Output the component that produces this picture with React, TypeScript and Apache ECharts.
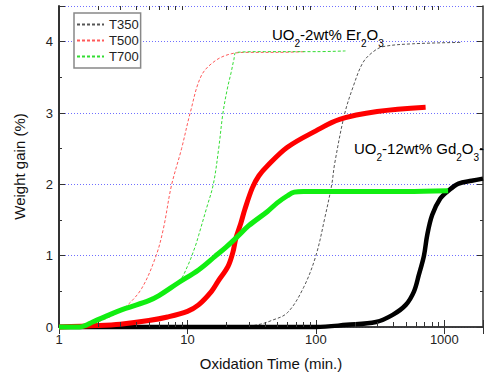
import React, { useEffect, useRef } from "react";
import * as echarts from "echarts";

// T350 / T500 / T700 (thin dashed) curves: [time (min.), weight gain (%)]
const t350Dashed: number[][] = [
  [1, 0], [25, 0], [35, 0.03], [45, 0.09], [60, 0.2], [80, 0.55], [100, 1.0], [118, 1.55],
  [133, 2.0], [140, 2.29], [167, 2.98], [196, 3.38], [233, 3.71], [280, 3.86], [333, 3.93],
  [565, 3.97], [1380, 3.99],
];
const t500Dashed: number[][] = [
  [1, 0], [1.6, 0.02], [2.2, 0.1], [2.8, 0.19], [3.3, 0.28], [4.4, 0.54], [5.7, 1.0], [6.5, 1.38],
  [7.5, 1.98], [9, 2.5], [10.5, 3.0], [12.8, 3.52], [16.4, 3.73], [21.9, 3.83], [30, 3.85],
  [50, 3.85], [82, 3.86],
];
const t700Dashed: number[][] = [
  [1, 0], [1.6, 0.02], [1.83, 0.07], [2.46, 0.17], [3.3, 0.26], [5, 0.37], [8.5, 0.63], [10, 0.85],
  [11.5, 1.13], [12.2, 1.28], [14, 1.65], [15.9, 2.0], [17.5, 2.5], [18.9, 3.0], [20.5, 3.35],
  [21.9, 3.57], [23, 3.75], [24, 3.85], [40, 3.86], [100, 3.86], [170, 3.87],
];

// Thick curves (no legend entry)
const gdThick: number[][] = [
  [1, 0], [100, 0], [173, 0.03], [294, 0.07], [396, 0.17], [501, 0.31], [581, 0.5], [633, 0.73],
  [694, 1.0], [736, 1.29], [804, 1.57], [930, 1.8], [1075, 1.91], [1290, 2.01], [1630, 2.05],
  [2000, 2.08],
];
const redThick: number[][] = [
  [1, 0], [2, 0.02], [3, 0.04], [5, 0.09], [7, 0.14], [10, 0.22], [12.2, 0.31], [15.4, 0.5],
  [17.3, 0.64], [20.7, 0.85], [22.6, 1.05], [23.8, 1.24], [26, 1.45], [28, 1.65], [32, 1.95],
  [36, 2.12], [42, 2.26], [60, 2.52], [100, 2.75], [153, 2.91], [300, 3.02], [715, 3.08],
];
const greenThick: number[][] = [
  [1, 0], [1.45, 0], [1.6, 0.02], [1.83, 0.07], [2.46, 0.17], [3.3, 0.26], [5, 0.37], [6, 0.44],
  [8.5, 0.62], [12.2, 0.8], [16.4, 0.99], [20, 1.12], [24.6, 1.27], [30, 1.42], [42, 1.62],
  [50, 1.74], [60, 1.84], [68, 1.89], [80, 1.9], [200, 1.9], [500, 1.9], [1070, 1.91],
];

const legendNames = ["T350", "T500", "T700"];
const xMinorTicks = [
  2, 3, 4, 5, 6, 7, 8, 9, 20, 30, 40, 50, 60, 70, 80, 90, 200, 300, 400, 500, 600, 700, 800, 900,
];
const xMin = 1;
const xMax = 2000;
const yMin = 0;
const yMax = 4.5;
const label1 = "{a|UO}{s|2}{a|-2wt% Er}{s|2}{a|O}{s|3}";
const label2 = "{a|UO}{s|2}{a|-12wt% Gd}{s|2}{a|O}{s|3}{a|-}";
const xTitle = "Oxidation Time (min.)";
const yTitle = "Weight gain (%)";

const FONT = "'Liberation Sans', Arial, sans-serif";
const AXIS_COLOR = "#333";

export default function App() {
  const ref = useRef<HTMLDivElement>(null);
  useEffect(() => {
    if (!ref.current) return;
    const chart = echarts.init(ref.current, undefined, { renderer: "svg" });
    const rich = {
      a: { fontSize: 15, lineHeight: 21, verticalAlign: "top", fontFamily: FONT, color: "#111" },
      s: { fontSize: 10, lineHeight: 10, verticalAlign: "bottom", fontFamily: FONT, color: "#111" },
    };
    const xLabelFmt = (v: number) => {
      const l = Math.log10(v);
      return Math.abs(l - Math.round(l)) < 1e-6 ? String(Math.round(v)) : "";
    };
    const thin = (name: string, data: number[][], color: string) => ({
      name,
      type: "line",
      data,
      symbol: "none",
      smooth: 0.35,
      clip: false,
      lineStyle: { color, width: 1, type: [3, 2] },
      itemStyle: { color },
      z: 2,
    });
    const thick = (name: string, data: number[][], color: string, width: number, z: number) => ({
      name,
      type: "line",
      data,
      symbol: "none",
      smooth: 0.35,
      clip: false,
      lineStyle: { color, width },
      itemStyle: { color },
      z,
    });
    const textGraphics: any[] = [
      {
        id: "label1",
        type: "text",
        left: 272,
        top: 27,
        style: { text: label1, rich, fontFamily: FONT },
        z: 10,
      },
      {
        id: "label2",
        type: "text",
        left: 354,
        top: 141,
        style: { text: label2, rich, fontFamily: FONT },
        z: 10,
      },
    ];
    chart.setOption({
      animation: false,
      backgroundColor: "#fff",
      grid: { left: 59, top: 6, right: -2, bottom: 47 },
      legend: {
        data: legendNames,
        orient: "vertical",
        left: 74,
        top: 13,
        itemWidth: 27,
        itemHeight: 13,
        itemGap: 3,
        padding: [5, 2, 5, 2],
        borderColor: "#888",
        borderWidth: 1.5,
        backgroundColor: "#fff",
        itemStyle: { opacity: 0 },
        textStyle: { fontSize: 13, color: "#222", fontFamily: FONT },
      },
      xAxis: [
        {
          type: "log",
          logBase: 10,
          min: xMin,
          max: xMax,
          position: "bottom",
          name: xTitle,
          nameLocation: "middle",
          nameGap: 29,
          nameTextStyle: { fontSize: 15, color: "#111", fontFamily: FONT },
          axisLine: { show: true, lineStyle: { color: AXIS_COLOR, width: 1.5 } },
          axisTick: { show: true, inside: true, length: 7, lineStyle: { color: AXIS_COLOR } },
          axisLabel: { margin: 6, fontSize: 13, color: "#222", fontFamily: FONT, formatter: xLabelFmt },
          splitLine: { show: false },
        },
        {
          type: "log",
          logBase: 10,
          min: xMin,
          max: xMax,
          position: "top",
          axisLine: { show: true, lineStyle: { color: AXIS_COLOR, width: 1.5 } },
          axisTick: { show: true, inside: true, length: 7, lineStyle: { color: AXIS_COLOR } },
          axisLabel: { show: false },
          splitLine: { show: false },
        },
      ],
      yAxis: [
        {
          type: "value",
          min: yMin,
          max: yMax,
          interval: 1,
          position: "left",
          name: yTitle,
          nameLocation: "middle",
          nameGap: 32,
          nameTextStyle: { fontSize: 15, color: "#111", fontFamily: FONT },
          axisLine: { show: true, lineStyle: { color: AXIS_COLOR, width: 2 } },
          axisTick: { show: true, inside: true, length: 6, lineStyle: { color: AXIS_COLOR } },
          minorTick: { show: true, splitNumber: 2, length: 3, lineStyle: { color: AXIS_COLOR } },
          axisLabel: {
            margin: 6,
            fontSize: 13,
            color: "#222",
            fontFamily: FONT,
            formatter: (v: number) => (Number.isInteger(v) ? String(v) : ""),
          },
          splitLine: { show: true, lineStyle: { color: "#6f6fff", type: [1, 2], width: 1 } },
        },
        {
          type: "value",
          min: yMin,
          max: yMax,
          interval: 1,
          position: "right",
          axisLine: { show: true, lineStyle: { color: AXIS_COLOR, width: 1.5 } },
          axisTick: { show: true, inside: true, length: 6, lineStyle: { color: AXIS_COLOR } },
          minorTick: { show: true, splitNumber: 2, length: 3, lineStyle: { color: AXIS_COLOR } },
          axisLabel: { show: false },
          splitLine: { show: false },
        },
      ],
      graphic: textGraphics,
      series: [
        thin("T350", t350Dashed, "#555555"),
        thin("T500", t500Dashed, "#ff5a5a"),
        thin("T700", t700Dashed, "#33dd33"),
        thick("Gd thick", gdThick, "#000000", 4.5, 3),
        thick("Red thick", redThick, "#ff0000", 5, 4),
        thick("Green thick", greenThick, "#11ee11", 5, 5),
      ],
    });
    // minor log ticks on bottom and top axes, placed through the axis scale
    const tickEls: any[] = [];
    xMinorTicks.forEach((v, i) => {
      let pb: any = null;
      let pt: any = null;
      try {
        pb = chart.convertToPixel({ gridIndex: 0 }, [v, yMin]);
        pt = chart.convertToPixel({ gridIndex: 0 }, [v, yMax]);
      } catch (e) {
        pb = null;
      }
      if (!pb || !pt) return;
      const x = Math.round(pb[0]) + 0.5;
      tickEls.push({
        id: "mtb" + i,
        type: "line",
        silent: true,
        z: 20,
        shape: { x1: x, y1: pb[1], x2: x, y2: pb[1] - 5 },
        style: { stroke: AXIS_COLOR, lineWidth: 1 },
      });
      tickEls.push({
        id: "mtt" + i,
        type: "line",
        silent: true,
        z: 20,
        shape: { x1: x, y1: pt[1], x2: x, y2: pt[1] + 4 },
        style: { stroke: AXIS_COLOR, lineWidth: 1 },
      });
    });
    chart.setOption({ graphic: [...textGraphics, ...tickEls] });
    return () => chart.dispose();
  }, []);
  return (
    <div
      ref={ref}
      style={{ position: "fixed", left: 0, top: 0, width: 486, height: 376 }}
    />
  );
}
